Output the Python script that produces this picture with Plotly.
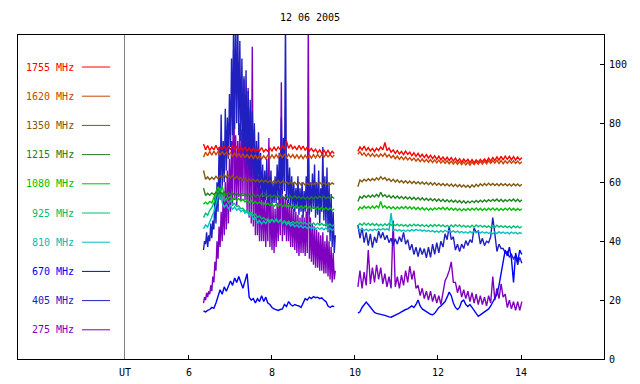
import plotly.graph_objects as go

# ---------------- data ----------------
DATE_TITLE = "12 06 2005"
SEG1_START, SEG2_START, STEP, FINE_STEP = 6.35, 10.07, 0.05, 0.025

x_tick_vals = [6, 8, 10, 12, 14]
y_tick_vals = [0, 20, 40, 60, 80, 100]

labels = ["1755 MHz", "1620 MHz", "1350 MHz", "1215 MHz", "1080 MHz",
          "925 MHz", "810 MHz", "670 MHz", "405 MHz", "275 MHz"]
colors = ["#ff0000", "#c84400", "#80580e", "#208020", "#00c000",
          "#00c070", "#00c0c0", "#0000ff", "#2020c0", "#8000c0"]

f1755_a = [73, 71, 72.5, 70.8, 72, 71, 72.6, 70.9, 72, 71.2, 72.4, 70.8, 72.2, 71, 72.5, 71.2,
           72, 70.6, 71.8, 70.8, 72, 70.5, 71.6, 70.4, 71.5, 70.2, 71.4, 70.6, 71.8, 70.3, 71.2, 70.5,
           71.6, 70.6, 71.9, 70.8, 72, 71, 72.6, 71.2, 74, 71.5, 72.8, 71.4, 72.2, 71, 72.5, 71.2,
           72.3, 70.8, 72, 70.6, 71.5, 70.4, 71.2, 70, 71, 69.8, 71, 69.7, 70.8, 69.6, 70.5, 69.8]
f1755_b = [70.5, 72, 71, 72.3, 70.8, 71.8, 70.6, 71.5, 70.4, 71.6, 70.8, 72, 71, 73.5, 70.8, 71.6,
           70.2, 71, 69.8, 70.8, 69.6, 70.5, 69.4, 70.6, 69.5, 70.2, 69, 70, 68.8, 69.8, 68.6, 69.5,
           68.4, 69.4, 68.2, 69.2, 68, 69, 67.8, 68.9, 67.6, 68.6, 67.5, 68.5, 67.4, 68.4, 67.2, 68.2,
           67, 68, 66.8, 67.9, 66.9, 67.8, 66.7, 67.7, 66.6, 67.6, 66.8, 67.8, 66.9, 67.9, 67, 68.2,
           67.2, 68.4, 67.4, 68.6, 67.5, 68.8, 67.6, 68.9, 67.8, 68.8, 67.6, 68.7, 67.5, 68.6, 67.6, 68.4]

f1620_a = [68.5, 70.2, 69, 70.5, 69.2, 70.6, 69.4, 70.4, 69.2, 70.5, 69.3, 70.2, 69, 70.1, 68.8, 69.9,
           68.6, 69.8, 68.5, 69.6, 68.3, 69.5, 68.2, 69.3, 68.1, 69.2, 68, 69.1, 67.9, 69, 68, 69.2,
           68.1, 69.3, 68.2, 69.4, 68.3, 69.5, 68.4, 69.6, 68.3, 69.5, 68.4, 69.4, 68.2, 69.3, 68.1, 69.2,
           68, 69.2, 68.1, 69.3, 68.2, 69.4, 68.3, 69.5, 68.4, 69.4, 68.5, 69.6, 68.6, 69.4, 68.5, 69.3]
f1620_b = [69.5, 70.4, 69.2, 70, 68.9, 69.8, 68.8, 69.7, 68.7, 69.5, 68.6, 69.6, 68.8, 69.8, 68.6, 69.4,
           68.3, 69.1, 68, 68.9, 67.8, 68.7, 67.7, 68.6, 67.6, 68.4, 67.4, 68.2, 67.2, 68, 67, 67.9,
           66.9, 67.8, 66.8, 67.7, 66.7, 67.6, 66.6, 67.5, 66.5, 67.4, 66.4, 67.3, 66.3, 67.2, 66.2, 67.1,
           66.1, 67, 66, 66.9, 65.9, 66.8, 65.8, 66.9, 66, 67, 66.1, 67.1, 66.2, 67.2, 66.3, 67.3,
           66.4, 67.4, 66.5, 67.5, 66.4, 67.4, 66.3, 67.3, 66.4, 67.4, 66.5, 67.3, 66.4, 67.2, 66.3, 67]

f1350_a = [64, 61, 61.8, 60.9, 61.7, 61, 62, 61.2, 62.2, 61.5, 62.6, 61.6, 62.5, 61.4, 62.3, 61.2,
           62, 61, 61.6, 60.6, 61.4, 60.4, 61.2, 60.3, 61, 60.2, 60.9, 60, 60.8, 60.1, 60.7, 59.9,
           60.6, 59.8, 60.5, 59.8, 60.6, 59.6, 60.4, 59.5, 60.2, 59.4, 60.1, 59.3, 60, 59.2, 59.9, 59.1,
           59.8, 59, 59.7, 59.1, 59.8, 59.2, 59.9, 59.3, 60, 59.2, 59.8, 59.1, 59.7, 59.2, 59.8, 59.3]
f1350_b = [58.5, 60.8, 60.2, 61, 60.4, 61.2, 60.5, 61.3, 60.6, 61.5, 60.8, 61.9, 61, 61.6, 60.6, 61.2,
           60.3, 61, 60.1, 60.8, 59.9, 60.6, 59.8, 60.5, 59.7, 60.4, 59.6, 60.3, 59.5, 60.2, 59.4, 60.1,
           59.3, 60, 59.2, 59.9, 59.1, 59.8, 59, 59.7, 58.9, 59.6, 58.8, 59.5, 58.7, 59.4, 58.6, 59.3,
           58.5, 59.2, 58.4, 59.1, 58.3, 59, 58.2, 59.1, 58.4, 59.3, 58.6, 59.5, 58.8, 59.6, 58.9, 59.7,
           59, 59.6, 58.9, 59.5, 58.8, 59.6, 58.9, 59.5, 58.8, 59.4, 58.7, 59.5, 58.8, 59.4, 58.7, 59.3]

f1215_a = [58, 55.5, 56.3, 55.6, 56.4, 55.8, 56.6, 55.9, 56.8, 56, 56.7, 55.8, 56.5, 55.7, 56.4, 55.6,
           56.3, 55.5, 56.2, 55.4, 56.1, 55.3, 56, 55.2, 55.9, 55.1, 55.8, 55.1, 55.9, 55.2, 55.8, 55,
           55.7, 54.9, 55.6, 54.8, 55.5, 54.7, 55.4, 54.6, 55.3, 54.5, 55.3, 54.6, 55.4, 54.5, 55.2, 54.4,
           55.1, 54.3, 55, 54.3, 55.1, 54.4, 55.2, 54.5, 55.3, 54.5, 55.2, 54.4, 55.1, 54.4, 55, 54.5]
f1215_b = [53.5, 55.2, 54.6, 55.5, 54.8, 55.6, 54.9, 55.7, 55, 55.9, 55.1, 56.6, 55.2, 55.8, 54.9, 55.6,
           54.7, 55.4, 54.6, 55.3, 54.5, 55.2, 54.4, 55.1, 54.3, 55, 54.2, 54.9, 54.1, 54.8, 54, 54.7,
           53.9, 54.6, 53.8, 54.5, 53.7, 54.4, 53.6, 54.3, 53.5, 54.2, 53.4, 54.1, 53.3, 54, 53.2, 53.9,
           53.1, 53.8, 53, 53.7, 52.9, 53.6, 53, 53.7, 53.1, 53.8, 53.2, 53.9, 53.3, 54, 53.4, 54.1,
           53.5, 54.2, 53.6, 54.3, 53.5, 54.2, 53.4, 54.1, 53.5, 54.2, 53.6, 54.3, 53.5, 54.2, 53.4, 54.1]

f1080_a = [52.5, 53.2, 52.6, 53.5, 53, 55, 57, 58.5, 56, 58.8, 55.5, 56, 54.5, 55.2, 54, 54.8,
           53.8, 54.5, 53.6, 54.2, 53.3, 54, 53.1, 53.8, 52.9, 53.5, 52.7, 53.3, 52.5, 53.1, 52.3, 52.9,
           52.1, 52.7, 51.9, 52.6, 51.8, 52.5, 51.7, 52.4, 51.6, 52.3, 51.5, 52.2, 51.4, 52.1, 51.3, 52,
           51.2, 51.9, 51.1, 51.8, 51, 51.7, 50.9, 51.6, 50.8, 51.5, 50.7, 51.4, 50.6, 51.3, 50.5, 51]
f1080_b = [50.5, 51.6, 51, 51.9, 51.2, 51.8, 51.1, 51.9, 51.2, 52, 51.3, 53.5, 51.4, 52, 51.2, 51.8,
           51, 51.7, 50.9, 51.6, 51, 51.7, 51.1, 51.8, 51, 51.7, 50.9, 51.6, 50.8, 51.5, 50.7, 51.4,
           50.6, 51.3, 50.5, 51.2, 50.6, 51.3, 50.7, 51.4, 50.8, 51.5, 50.7, 51.4, 50.6, 51.3, 50.5, 51.2,
           50.4, 51.1, 50.3, 51, 50.4, 51.1, 50.5, 51.2, 50.6, 51.3, 50.5, 51.2, 50.4, 51.1, 50.5, 51.2,
           50.6, 51.3, 50.5, 51.2, 50.4, 51.1, 50.5, 51.2, 50.6, 51.3, 50.5, 51.2, 50.4, 51.1, 50.5, 51]

f925_a = [48, 49.5, 48.8, 50.5, 51.5, 53, 55.5, 57, 54, 56.5, 53.5, 54.5, 53, 53.8, 52.5, 52.8,
          51.8, 52, 51, 51.2, 50.2, 50.4, 49.5, 49.8, 48.8, 49.2, 48.2, 48.6, 47.6, 48, 47.2, 47.6,
          46.8, 47.4, 46.6, 47.2, 46.4, 47, 46.3, 46.9, 46.2, 46.8, 46.1, 46.7, 46, 46.6, 45.9, 46.5,
          45.8, 46.4, 45.7, 46.3, 45.6, 46.2, 45.5, 46.1, 45.4, 46, 45.3, 45.9, 45.2, 45.8, 45.1, 45.6]
f925_b = [45.2, 46, 45.4, 46.2, 45.5, 46.1, 45.4, 46, 45.3, 45.9, 45.2, 45.8, 45.2, 45.9, 45.3, 46,
          45.4, 45.9, 45.3, 45.8, 45.2, 45.7, 45.1, 45.6, 45, 45.7, 45.1, 45.8, 45.2, 45.7, 45.1, 45.6,
          45, 45.5, 44.9, 45.6, 45, 45.7, 45.1, 45.6, 45, 45.5, 44.9, 45.4, 44.8, 45.5, 44.9, 45.6,
          45, 45.5, 44.9, 45.4, 44.8, 45.3, 44.7, 45.4, 44.8, 45.5, 44.9, 45.4, 44.8, 45.3, 44.7, 45.2,
          44.6, 45.3, 44.7, 45.4, 44.8, 45.3, 44.7, 45.2, 44.6, 45.1, 44.5, 45.2, 44.6, 45.1, 44.5, 45]

f810_a = [44.2, 45.5, 44.8, 46.5, 48, 50, 52.5, 55, 58, 53, 51.5, 52.5, 51, 52, 50.8, 51.6,
          50.5, 51.2, 50, 50.6, 49.5, 50, 48.8, 49.2, 47.5, 48, 46.2, 47, 45.8, 46.8, 46, 47.2,
          46.3, 47.4, 46.5, 47.6, 46.4, 47.3, 46, 46.8, 45.6, 46.3, 45.2, 45.8, 44.9, 45.5, 44.7, 45.3,
          44.5, 45.1, 44.3, 44.9, 44.2, 44.8, 44.1, 44.7, 44, 44.6, 43.9, 44.5, 43.8, 44.4, 43.7, 44.2]
f810_b = [44.5, 43.8, 44.2, 43.6, 44.1, 43.5, 44, 43.6, 44.1, 43.7, 44.2, 43.8, 44.3, 43.9, 44.2, 43.7,
          49.5, 43.6, 44, 43.5, 43.9, 43.4, 43.8, 43.3, 43.8, 43.4, 43.9, 43.5, 44, 43.6, 43.9, 43.4,
          43.8, 43.3, 43.7, 43.2, 43.6, 43.1, 43.5, 43, 43.6, 43.1, 43.7, 43.2, 43.6, 43.1, 43.5, 43,
          43.4, 42.9, 43.3, 42.8, 43.2, 42.7, 43.3, 42.8, 43.4, 42.9, 43.3, 42.8, 43.2, 42.7, 43.1, 42.6,
          43, 42.5, 43.1, 42.6, 43.2, 42.7, 43.1, 42.6, 43, 42.5, 43.1, 42.6, 43, 42.5, 42.9, 42.6]

f670_a = [16.3, 16, 16.5, 16.8, 17.5, 17.2, 19, 21, 23.5, 22, 24.5, 23, 25, 26.5, 25, 27.5,
          26, 28, 26, 24, 26.5, 29, 21, 20, 20.5, 19, 20.5, 19.5, 21.5, 19.5, 21, 19,
          18.5, 17.5, 17, 16.8, 16.5, 16.8, 17, 18.5, 17.8, 19.5, 18.5, 18, 18.5, 18.2, 18, 17.5,
          19, 20.5, 20, 21, 20.5, 21.2, 20.8, 21, 20.5, 20.8, 20, 19.5, 18, 17.5, 18, 17.8]
f670_b = [15.6, 16, 17.5, 18.5, 19.3, 18.5, 17.5, 16.5, 15.8, 15.5, 15.4, 15.3, 15, 14.8, 14.5, 14.3,
          14.2, 14.5, 14.8, 15.2, 15.6, 16, 16.5, 16.8, 17, 17.5, 18, 17.5, 18.5, 20, 18, 17,
          16.5, 16, 15.5, 15.2, 15, 15.5, 16.5, 17.5, 18, 18.8, 19.5, 21, 22.7, 21.5, 19, 17.5,
          16.8, 17.5, 19.5, 20, 18.5, 17.8, 18.5, 17.5, 16.5, 15.5, 14.5, 15, 15.5, 16, 16.5, 17,
          18, 19.5, 20.5, 22, 25, 29, 33, 37, 35, 38, 34, 26, 36, 33, 37, 35.5]

# 405 and 275 MHz first segment sampled twice as densely (burst period)
f405_a = [37, 40, 39, 43, 38, 42, 40, 46, 41, 47, 44, 55, 46, 60, 50, 72,
          55, 83, 58, 74, 60, 85, 64, 82, 68, 90, 72, 102, 76, 115, 78, 115,
          80, 115, 76, 108, 74, 102, 70, 96, 68, 98, 66, 91, 64, 88, 62, 84,
          60, 80, 57, 74, 58, 77, 55, 70, 54, 66, 53, 64, 54, 68, 52, 62,
          53, 64, 52, 60, 53, 62, 53, 66, 54, 70, 55, 82, 56, 75, 57, 115,
          54, 68, 53, 65, 52, 62, 51, 60, 50, 58, 51, 62, 49, 58, 50, 60,
          48, 57, 50, 62, 52, 68, 49, 60, 50, 63, 51, 66, 48, 60, 49, 64,
          46, 58, 50, 72, 47, 62, 45, 65, 43, 60, 40, 56, 38, 50, 36, 42]
f405_b = [45.5, 41, 44.5, 39.5, 43, 38.5, 42.5, 37.8, 41.5, 39.5, 43.5, 41, 43, 40.5, 42, 39.5,
          41, 38.5, 40.8, 39, 41.5, 39.8, 43, 39, 40.5, 37, 39, 35.5, 38, 34.8, 37.8, 35.5,
          37.5, 34.3, 38, 34.5, 39, 35.5, 39.5, 36, 40, 38, 42.5, 40.5, 45, 40.5, 41.5, 37,
          39, 36.5, 39, 37.5, 40.2, 38.5, 40.5, 39.5, 44.5, 43, 43.5, 39, 41, 38.5, 40, 39.5,
          41.5, 48, 42.5, 36.5, 39, 37.5, 37.5, 36, 36.5, 34.5, 35.5, 34, 35, 32, 34.5, 32.5]

f275_a = [19, 21, 20, 22.5, 21, 23, 22, 25, 23, 28, 26, 33, 30, 40, 34, 45,
          38, 50, 40, 56, 42, 60, 44, 64, 46, 68, 50, 74, 52, 105, 54, 76,
          52, 74, 55, 80, 54, 78, 56, 95, 54, 88, 50, 92, 48, 85, 46, 106,
          45, 78, 42, 68, 42, 62, 40, 58, 40, 55, 40, 56, 38, 54, 40, 75,
          38, 53, 37, 52, 36, 51, 38, 53, 40, 58, 42, 94, 40, 55, 42, 56,
          40, 54, 40, 53, 38, 52, 38, 51, 37, 50, 36, 49, 35, 48, 36, 49,
          36, 48, 35, 50, 36, 115, 34, 48, 33, 46, 32, 45, 31, 44, 31, 43,
          30, 42, 30, 43, 29, 40, 29, 42, 28, 40, 27, 38, 26, 36, 27, 30]
f275_b = [24.5, 30, 24, 29.5, 25, 37, 25.5, 31, 26, 32, 27, 31, 25.5, 29, 24.5, 28,
          24, 47, 24.5, 28, 24, 28.5, 25, 30, 26, 31.5, 27, 30, 24, 25, 21.5, 24,
          20.5, 23, 20, 23, 19.5, 22, 19, 21.5, 18.5, 22, 26.5, 28, 30, 33, 26, 26,
          22.5, 25, 21, 23.5, 20.5, 23, 19.5, 22.5, 19, 22, 18.5, 21.5, 18.5, 21, 18, 21.5,
          19, 28, 20, 24, 20.5, 25.5, 21, 22, 17.5, 20, 17, 19.5, 16.5, 19.5, 16.5, 19.5]

series_a = [f1755_a, f1620_a, f1350_a, f1215_a, f1080_a, f925_a, f810_a, f670_a, f405_a, f275_a]
series_b = [f1755_b, f1620_b, f1350_b, f1215_b, f1080_b, f925_b, f810_b, f670_b, f405_b, f275_b]
steps_a = [STEP] * 8 + [FINE_STEP, FINE_STEP]

# ---------------- figure ----------------
OFF = 8                      # page body margin of the exported html
W, H = 640 - OFF, 384 - OFF
PL, PR, PT, PB = 18, 604, 35, 359   # plot frame in window pixels
L, R, T, B = PL - OFF, 640 - PR, PT - OFF, 384 - PB
X_RANGE = [1.88, 16.0]
Y_RANGE = [0, 110]
FONT = "DejaVu Sans Mono"

fig = go.Figure()

for lab, col, a, b, sa in reversed(list(zip(labels, colors, series_a, series_b, steps_a))):
    xs = [round(SEG1_START + sa * i, 4) for i in range(len(a))] + [None] + \
         [round(SEG2_START + STEP * i, 4) for i in range(len(b))]
    ys = list(a) + [None] + list(b)
    fig.add_trace(go.Scatter(x=xs, y=ys, mode="lines", name=lab,
                             line=dict(color=col, width=1.4), connectgaps=False,
                             hoverinfo="skip", showlegend=False))

x_per_px = (X_RANGE[1] - X_RANGE[0]) / (PR - PL)
y_per_px = (Y_RANGE[1] - Y_RANGE[0]) / (PB - PT)
def xpx(p):
    return X_RANGE[0] + (p - PL) * x_per_px
def ypx(p):
    return Y_RANGE[1] - (p - PT) * y_per_px

for i, (lab, col) in enumerate(zip(labels, colors)):
    yy = ypx(67 + i * 29.2)
    fig.add_annotation(x=xpx(76), y=yy, xref="x", yref="y", text=lab, showarrow=False,
                       xanchor="right", yanchor="middle",
                       font=dict(family=FONT, size=10, color=col))
    fig.add_shape(type="line", xref="x", yref="y", x0=xpx(82), x1=xpx(110), y0=yy, y1=yy,
                  line=dict(color=col, width=1))

fig.add_shape(type="line", xref="x", yref="paper", x0=xpx(124.5), x1=xpx(124.5), y0=0, y1=1,
              line=dict(color="#808080", width=1))
fig.add_annotation(x=xpx(124.5), y=-(372 - PB) / (PB - PT), xref="x", yref="paper", text="UT",
                   showarrow=False, xanchor="center", yanchor="middle",
                   font=dict(family=FONT, size=10, color="black"))

fig.update_layout(
    width=W, height=H,
    margin=dict(l=L, r=R, t=T, b=B, pad=0, autoexpand=False),
    paper_bgcolor="white", plot_bgcolor="white",
    title=dict(text=DATE_TITLE, x=(310 - OFF) / W, xanchor="center",
               y=1 - (17 - OFF) / H, yanchor="middle",
               font=dict(family=FONT, size=10, color="black")),
    showlegend=False,
    hovermode=False,
)
fig.update_xaxes(range=X_RANGE, tickvals=x_tick_vals, ticks="inside", ticklen=4,
                 tickcolor="black", showgrid=False, zeroline=False,
                 showline=True, linecolor="black", linewidth=1, mirror=True,
                 ticklabelstandoff=4,
                 tickfont=dict(family=FONT, size=10, color="black"))
fig.update_yaxes(range=Y_RANGE, tickvals=y_tick_vals, side="right", ticks="inside", ticklen=4,
                 tickcolor="black", showgrid=False, zeroline=False,
                 showline=True, linecolor="black", linewidth=1, mirror=True,
                 ticklabelstandoff=2,
                 tickfont=dict(family=FONT, size=10, color="black"))

fig.write_html("out.html", config={"displayModeBar": False})
